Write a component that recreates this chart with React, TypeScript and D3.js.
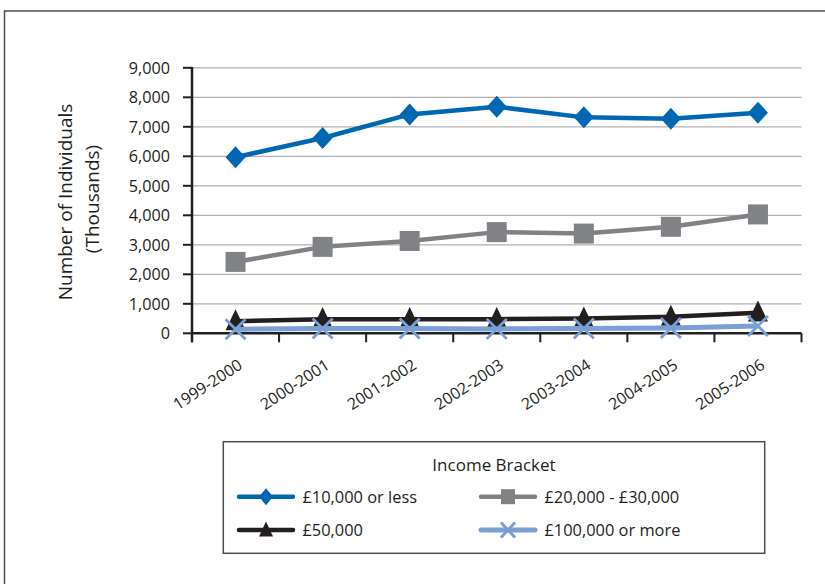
import React from "react";
import * as d3 from "d3";

const categories = ["1999-2000", "2000-2001", "2001-2002", "2002-2003", "2003-2004", "2004-2005", "2005-2006"];
const lowIncome = [5970, 6620, 7420, 7680, 7320, 7270, 7480];
const midIncome = [2420, 2930, 3130, 3430, 3380, 3610, 4030];
const income50k = [410, 480, 480, 480, 500, 560, 700];
const income100k = [140, 160, 160, 150, 160, 180, 250];
const yTicks = [0, 1000, 2000, 3000, 4000, 5000, 6000, 7000, 8000, 9000];
const seriesNames = ["£10,000 or less", "£20,000 - £30,000", "£50,000", "£100,000 or more"];
const legendTitle = "Income Bracket";
const yLabel1 = "Number of Individuals";
const yLabel2 = "(Thousands)";

const W = 825;
const H = 584;
const FONT = "'Open Sans', 'Noto Sans', sans-serif";
const TXT = "#231f20";

type Shape = "diamond" | "square" | "triangle" | "x";

function markerPath(shape: Shape, cx: number, cy: number, w: number, h: number) {
  const hw = w / 2, hh = h / 2;
  if (shape === "diamond") return `M${cx},${cy - hh}L${cx + hw},${cy}L${cx},${cy + hh}L${cx - hw},${cy}Z`;
  if (shape === "square") return `M${cx - hw},${cy - hh}h${w}v${h}h${-w}Z`;
  if (shape === "triangle") return `M${cx},${cy - hh * 1.15}L${cx + hw},${cy + hh * 0.85}L${cx - hw},${cy + hh * 0.85}Z`;
  return `M${cx - hw},${cy - hh}L${cx + hw},${cy + hh}M${cx - hw},${cy + hh}L${cx + hw},${cy - hh}`;
}

function Marker({ shape, cx, cy, w, h, color }: { shape: Shape; cx: number; cy: number; w: number; h: number; color: string }) {
  const d = markerPath(shape, cx, cy, w, h);
  if (shape === "x") return <path d={d} stroke={color} strokeWidth={2.8} fill="none" />;
  return <path d={d} fill={color} stroke="none" />;
}

export default function App() {
  const left = 192, right = 801.5, top = 67.8, bottom = 333.3;
  const x = d3.scaleBand<string>().domain(categories).range([left, right]);
  const y = d3.scaleLinear().domain([0, 9000]).range([bottom, top]);
  const cx = (c: string) => (x(c) as number) + x.bandwidth() / 2;

  const series = [
    { name: seriesNames[0], values: lowIncome, color: "#0067b2", shape: "diamond" as Shape, width: 4.5, mw: 20, mh: 22 },
    { name: seriesNames[1], values: midIncome, color: "#808285", shape: "square" as Shape, width: 4.5, mw: 20, mh: 20 },
    { name: seriesNames[2], values: income50k, color: "#231f20", shape: "triangle" as Shape, width: 4.5, mw: 20, mh: 21 },
    { name: seriesNames[3], values: income100k, color: "#7a9fd4", shape: "x" as Shape, width: 5, mw: 20, mh: 20 },
  ];

  const line = d3.line<[number, number]>().x((d) => d[0]).y((d) => d[1]);

  const legendItems = [
    { s: series[0], lx: 239, ly: 496.7 },
    { s: series[1], lx: 481, ly: 496.7 },
    { s: series[2], lx: 239, ly: 530 },
    { s: series[3], lx: 481, ly: 530 },
  ];

  return (
    <svg width={W} height={H} style={{ position: "absolute", left: 0, top: 0, background: "#fff" }} fontFamily={FONT}>
      <rect x={0} y={0} width={W} height={H} fill="#fff" />
      <rect x={4.5} y={11} width={W + 20} height={H + 20} fill="none" stroke="#4d4d4f" strokeWidth={1.5} />

      {/* gridlines */}
      {yTicks.map((t) => (
        <line key={"g" + t} x1={left} x2={right} y1={y(t)} y2={y(t)} stroke="#b0b1b3" strokeWidth={1.3} />
      ))}

      {/* y axis */}
      <line x1={left} x2={left} y1={top - 0.8} y2={bottom + 9} stroke={TXT} strokeWidth={2.5} />
      {yTicks.map((t) => (
        <g key={"yt" + t}>
          <line x1={left - 9} x2={left} y1={y(t)} y2={y(t)} stroke={TXT} strokeWidth={2} />
          <text x={170} y={y(t)} dy="0.36em" textAnchor="end" fontSize={16.2} fill={TXT}>
            {d3.format(",")(t)}
          </text>
        </g>
      ))}

      {/* x axis */}
      <line x1={left} x2={right} y1={bottom} y2={bottom} stroke={TXT} strokeWidth={2.5} />
      {[...categories.map((c) => x(c) as number), right].map((v, i) => (
        <line key={"xt" + i} x1={v} x2={v} y1={bottom} y2={bottom + 9} stroke={TXT} strokeWidth={2} />
      ))}
      {categories.map((c) => (
        <text key={"xl" + c} transform={`translate(${cx(c) + 8},${bottom + 34.5}) rotate(-33)`} textAnchor="end" fontSize={16} fill={TXT}>
          {c}
        </text>
      ))}

      {/* y label */}
      <text transform={`translate(72,202) rotate(-90)`} textAnchor="middle" fontSize={19} fill={TXT}>
        {yLabel1}
      </text>
      <text transform={`translate(99.3,199) rotate(-90)`} textAnchor="middle" fontSize={19} fill={TXT}>
        {yLabel2}
      </text>

      {/* series */}
      {series.map((s) => {
        const pts: [number, number][] = categories.map((c, i) => [cx(c), y(s.values[i])]);
        return (
          <g key={s.name}>
            <path d={line(pts) || ""} fill="none" stroke={s.color} strokeWidth={s.width} strokeLinejoin="round" />
            {pts.map((p, i) => (
              <Marker key={i} shape={s.shape} cx={p[0]} cy={p[1]} w={s.mw} h={s.mh} color={s.color} />
            ))}
          </g>
        );
      })}

      {/* legend */}
      <rect x={223.3} y={441.7} width={541.4} height={111.6} fill="#fff" stroke="#4d4d4f" strokeWidth={1.5} />
      <text x={494} y={471} textAnchor="middle" fontSize={17} fill={TXT}>
        {legendTitle}
      </text>
      {legendItems.map(({ s, lx, ly }) => (
        <g key={"lg" + s.name}>
          <line x1={lx} x2={lx + 54} y1={ly} y2={ly} stroke={s.color} strokeWidth={s.width} strokeLinecap="round" />
          <Marker shape={s.shape} cx={lx + 27} cy={ly} w={14} h={s.shape === "diamond" ? 17 : 15} color={s.color} />
          <text x={lx + 63.5} y={ly} dy="0.36em" fontSize={16.4} fill={TXT}>
            {s.name}
          </text>
        </g>
      ))}
    </svg>
  );
}
